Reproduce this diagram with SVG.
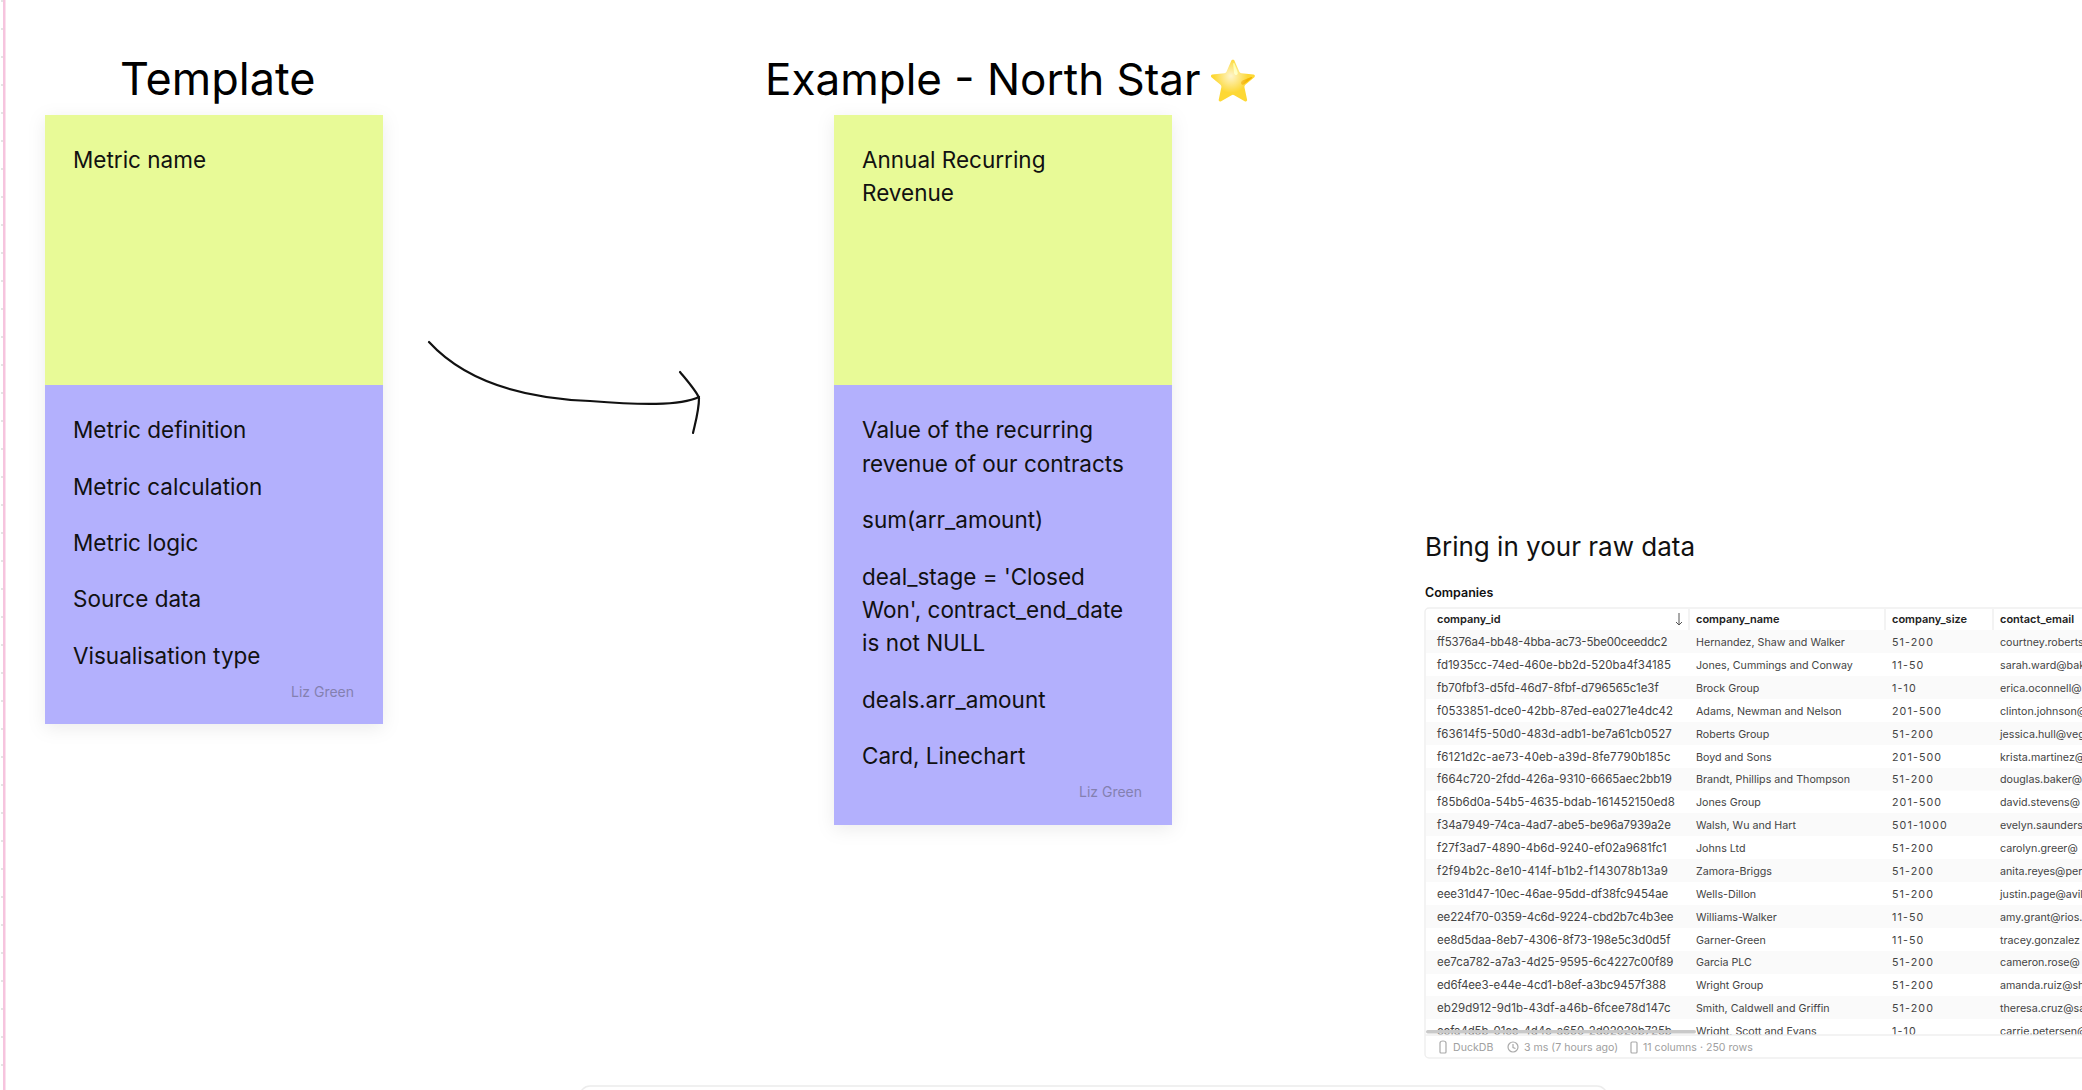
<svg xmlns="http://www.w3.org/2000/svg" width="2082" height="1090" viewBox="0 0 2082 1090">
<defs><filter id="sh" x="-15%" y="-10%" width="130%" height="125%"><feDropShadow dx="0" dy="4" stdDeviation="9" flood-color="#000" flood-opacity="0.08"/></filter>
<radialGradient id="glow"><stop offset="0" stop-color="#fff" stop-opacity=".75"/><stop offset="1" stop-color="#fff" stop-opacity="0"/></radialGradient>
<clipPath id="tc"><rect x="1425" y="608" width="657" height="427"/></clipPath></defs>
<style>
text{font-family:Inter,"Liberation Sans",sans-serif;fill:#111}
.h{font-size:44px;fill:#000}.s{font-size:22.5px}.a{font-size:14px;fill:#8480b0}
.g{fill:#e8fa97}.p{fill:#b3b0fd}
.t{font-size:10.7px;fill:#444}.n{font-size:10.7px;fill:#444;letter-spacing:1.1px}.u{font-size:11.5px;fill:#444}.th{font-size:11px;font-weight:600;fill:#222}
.alt{fill:#fafafa}.sep{stroke:#efefef;stroke-width:1.5}.f{font-size:10.6px;fill:#a0a0a0}
.ic{fill:none;stroke:#aaa;stroke-width:1.2}
</style>
<rect width="2082" height="1090" fill="#fff"/>
<line x1="2" y1="0" x2="2" y2="1090" stroke="#e4e4e4" stroke-width="2" stroke-dasharray="2 26"/>
<rect x="3" y="0" width="2.5" height="1090" fill="#f6c4de"/>
<text class="h" x="120" y="95" style="font-size:45px">Template</text>
<text class="h" x="765" y="95">Example - North Star</text>
<text x="1208" y="95" style="font-size:40px;font-family:'Noto Sans',sans-serif">⭐</text>
<circle cx="1231" cy="76" r="17" fill="url(#glow)"/>
<g id="template"><rect x="45" y="115" width="338" height="609" class="p" filter="url(#sh)"/><rect x="45" y="115" width="338" height="270" class="g"/><rect x="45" y="385" width="338" height="339" class="p"/>
<text class="s" x="73" y="168">Metric name</text><text class="s" x="73" y="438">Metric definition</text><text class="s" x="73" y="495">Metric calculation</text><text class="s" x="73" y="551">Metric logic</text><text class="s" x="73" y="607">Source data</text><text class="s" x="73" y="664">Visualisation type</text><text class="a" x="291" y="697">Liz Green</text></g>
<g id="example"><rect x="834" y="115" width="338" height="710" class="p" filter="url(#sh)"/><rect x="834" y="115" width="338" height="270" class="g"/><rect x="834" y="385" width="338" height="440" class="p"/>
<text class="s" x="862" y="168">Annual Recurring</text><text class="s" x="862" y="201">Revenue</text><text class="s" x="862" y="438">Value of the recurring</text><text class="s" x="862" y="472">revenue of our contracts</text><text class="s" x="862" y="528">sum(arr_amount)</text><text class="s" x="862" y="585">deal_stage = 'Closed</text><text class="s" x="862" y="618">Won', contract_end_date</text><text class="s" x="862" y="651">is not NULL</text><text class="s" x="862" y="708">deals.arr_amount</text><text class="s" x="862" y="764">Card, Linechart</text><text class="a" x="1079" y="797">Liz Green</text></g>
<g id="connectors" fill="none" stroke="#111" stroke-width="2.2" stroke-linecap="round"><path d="M429 342C462 378 515 398 590 401C640 405 680 406 699 397"/><path d="M680 372C690 384 697 392 699 398C699 410 696 420 693 433"/></g>
<g id="raw-data"><text x="1425" y="556" style="font-size:26px">Bring in your raw data</text><text x="1425" y="597" style="font-size:12.5px;font-weight:600">Companies</text>
<rect x="1425" y="608" width="670" height="450" rx="4" fill="#fff" stroke="#efefef" stroke-width="1.5"/>
<g clip-path="url(#tc)">
<rect class="alt" x="1426" y="630" width="656" height="23"/><rect class="alt" x="1426" y="676" width="656" height="23"/><rect class="alt" x="1426" y="722" width="656" height="23"/><rect class="alt" x="1426" y="768" width="656" height="22.5"/><rect class="alt" x="1426" y="813" width="656" height="23"/><rect class="alt" x="1426" y="859" width="656" height="23"/><rect class="alt" x="1426" y="905" width="656" height="23"/><rect class="alt" x="1426" y="951" width="656" height="23"/><rect class="alt" x="1426" y="996" width="656" height="23"/>
<line class="sep" x1="1689" y1="609" x2="1689" y2="630"/><line class="sep" x1="1885" y1="609" x2="1885" y2="630"/><line class="sep" x1="1993" y1="609" x2="1993" y2="630"/>
<text class="th" x="1437" y="623">company_id</text><text class="th" x="1696" y="623">company_name</text><text class="th" x="1892" y="623">company_size</text><text class="th" x="2000" y="623">contact_email</text>
<path d="M1679 613V625M1676 622L1679 625L1682 622" fill="none" stroke="#555" stroke-width="1"/>
<g class="rows">
<text class="u" x="1437" y="646" textLength="230.4">ff5376a4-bb48-4bba-ac73-5be00ceeddc2</text><text class="t" x="1696" y="646">Hernandez, Shaw and Walker</text><text class="n" x="1892" y="646">51-200</text><text class="t" x="2000" y="646">courtney.roberts</text>
<text class="u" x="1437" y="669" textLength="233.9">fd1935cc-74ed-460e-bb2d-520ba4f34185</text><text class="t" x="1696" y="669">Jones, Cummings and Conway</text><text class="n" x="1892" y="669">11-50</text><text class="t" x="2000" y="669">sarah.ward@bak</text>
<text class="u" x="1437" y="692" textLength="221.7">fb70fbf3-d5fd-46d7-8fbf-d796565c1e3f</text><text class="t" x="1696" y="692">Brock Group</text><text class="n" x="1892" y="692">1-10</text><text class="t" x="2000" y="692">erica.oconnell@</text>
<text class="u" x="1437" y="715" textLength="236">f0533851-dce0-42bb-87ed-ea0271e4dc42</text><text class="t" x="1696" y="715">Adams, Newman and Nelson</text><text class="n" x="1892" y="715">201-500</text><text class="t" x="2000" y="715">clinton.johnson@</text>
<text class="u" x="1437" y="738" textLength="234.8">f63614f5-50d0-483d-adb1-be7a61cb0527</text><text class="t" x="1696" y="738">Roberts Group</text><text class="n" x="1892" y="738">51-200</text><text class="t" x="2000" y="738">jessica.hull@veg</text>
<text class="u" x="1437" y="761" textLength="233.5">f6121d2c-ae73-40eb-a39d-8fe7790b185c</text><text class="t" x="1696" y="761">Boyd and Sons</text><text class="n" x="1892" y="761">201-500</text><text class="t" x="2000" y="761">krista.martinez@</text>
<text class="u" x="1437" y="783" textLength="234.8">f664c720-2fdd-426a-9310-6665aec2bb19</text><text class="t" x="1696" y="783">Brandt, Phillips and Thompson</text><text class="n" x="1892" y="783">51-200</text><text class="t" x="2000" y="783">douglas.baker@</text>
<text class="u" x="1437" y="806" textLength="237.8">f85b6d0a-54b5-4635-bdab-161452150ed8</text><text class="t" x="1696" y="806">Jones Group</text><text class="n" x="1892" y="806">201-500</text><text class="t" x="2000" y="806">david.stevens@</text>
<text class="u" x="1437" y="829" textLength="233.9">f34a7949-74ca-4ad7-abe5-be96a7939a2e</text><text class="t" x="1696" y="829">Walsh, Wu and Hart</text><text class="n" x="1892" y="829">501-1000</text><text class="t" x="2000" y="829">evelyn.saunders</text>
<text class="u" x="1437" y="852" textLength="229.6">f27f3ad7-4890-4b6d-9240-ef02a9681fc1</text><text class="t" x="1696" y="852">Johns Ltd</text><text class="n" x="1892" y="852">51-200</text><text class="t" x="2000" y="852">carolyn.greer@</text>
<text class="u" x="1437" y="875" textLength="230.9">f2f94b2c-8e10-414f-b1b2-f143078b13a9</text><text class="t" x="1696" y="875">Zamora-Briggs</text><text class="n" x="1892" y="875">51-200</text><text class="t" x="2000" y="875">anita.reyes@per</text>
<text class="u" x="1437" y="898" textLength="231.3">eee31d47-10ec-46ae-95dd-df38fc9454ae</text><text class="t" x="1696" y="898">Wells-Dillon</text><text class="n" x="1892" y="898">51-200</text><text class="t" x="2000" y="898">justin.page@avil</text>
<text class="u" x="1437" y="921" textLength="236.5">ee224f70-0359-4c6d-9224-cbd2b7c4b3ee</text><text class="t" x="1696" y="921">Williams-Walker</text><text class="n" x="1892" y="921">11-50</text><text class="t" x="2000" y="921">amy.grant@rios.</text>
<text class="u" x="1437" y="944" textLength="233.5">ee8d5daa-8eb7-4306-8f73-198e5c3d0d5f</text><text class="t" x="1696" y="944">Garner-Green</text><text class="n" x="1892" y="944">11-50</text><text class="t" x="2000" y="944">tracey.gonzalez</text>
<text class="u" x="1437" y="966" textLength="236.5">ee7ca782-a7a3-4d25-9595-6c4227c00f89</text><text class="t" x="1696" y="966">Garcia PLC</text><text class="n" x="1892" y="966">51-200</text><text class="t" x="2000" y="966">cameron.rose@</text>
<text class="u" x="1437" y="989" textLength="229.1">ed6f4ee3-e44e-4cd1-b8ef-a3bc9457f388</text><text class="t" x="1696" y="989">Wright Group</text><text class="n" x="1892" y="989">51-200</text><text class="t" x="2000" y="989">amanda.ruiz@sh</text>
<text class="u" x="1437" y="1012" textLength="233.5">eb29d912-9d1b-43df-a46b-6fcee78d147c</text><text class="t" x="1696" y="1012">Smith, Caldwell and Griffin</text><text class="n" x="1892" y="1012">51-200</text><text class="t" x="2000" y="1012">theresa.cruz@sa</text>
<text class="u" x="1437" y="1035" textLength="234.8">eefa4d5b-01ee-4d4e-a650-2d02020b725b</text><text class="t" x="1696" y="1035">Wright, Scott and Evans</text><text class="n" x="1892" y="1035">1-10</text><text class="t" x="2000" y="1035">carrie.petersen@</text>
</g>
<rect x="1426" y="1030" width="270" height="3.5" rx="1.7" fill="#c9c9c9"/>
</g>
<line class="sep" x1="1425" y1="1035" x2="2082" y2="1035"/>
<path class="ic" d="M1440 1043a3 2 0 0 1 6 0V1052a1 1 0 0 1-1 1h-4a1 1 0 0 1-1-1Z"/>
<text class="f" x="1453" y="1051">DuckDB</text>
<circle class="ic" cx="1513" cy="1047" r="5"/><path class="ic" d="M1513 1044v3.5l2.5 1"/>
<text class="f" x="1524" y="1051">3 ms (7 hours ago)</text>
<rect class="ic" x="1631" y="1042" width="6" height="11" rx="1"/>
<text class="f" x="1643" y="1051">11 columns · 250 rows</text></g>
<rect id="bottom-panel" x="580" y="1086" width="1027" height="40" rx="10" fill="#fff" stroke="#ececec" stroke-width="1.5"/>
</svg>
